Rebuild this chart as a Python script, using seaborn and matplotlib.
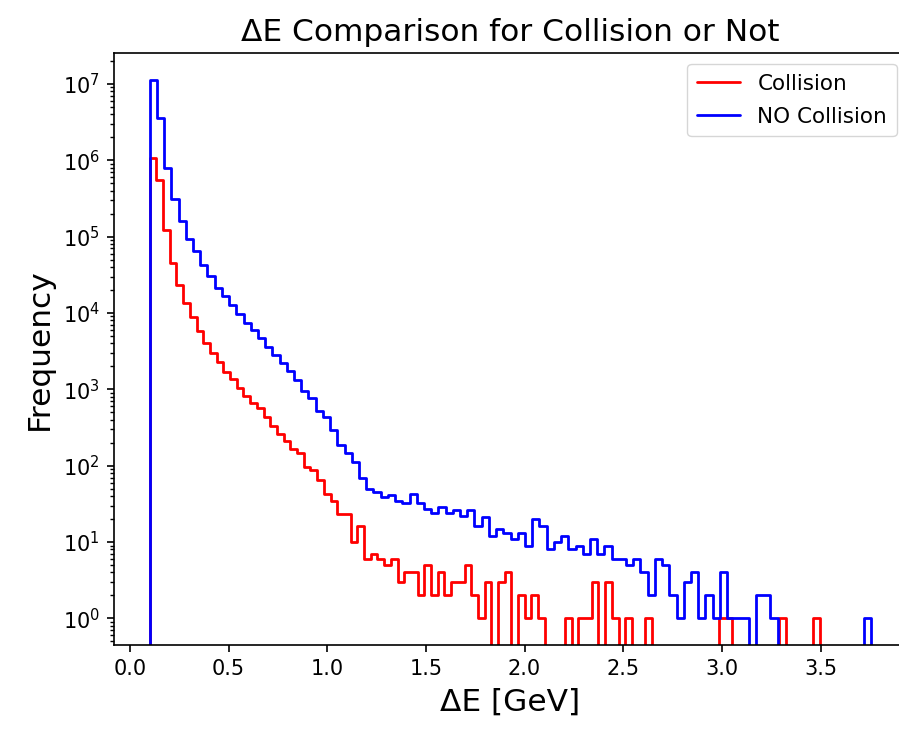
import numpy as np
import pandas as pd
import matplotlib
matplotlib.use("Agg")
import matplotlib.pyplot as plt
import seaborn as sns

# ---- data ----
title = "ΔE Comparison for Collision or Not"
xlabel = "ΔE [GeV]"
ylabel = "Frequency"
series_labels = ["Collision", "NO Collision"]
series_colors = ["red", "blue"]
xtick_values = [0.0, 0.5, 1.0, 1.5, 2.0, 2.5, 3.0, 3.5]
xtick_labels = ["0.0", "0.5", "1.0", "1.5", "2.0", "2.5", "3.0", "3.5"]
ytick_values = [1e0, 1e1, 1e2, 1e3, 1e4, 1e5, 1e6, 1e7]

# bin ranges (100 equal bins each)
collision_range = (0.1, 3.495)
no_collision_range = (0.1, 3.758)

collision_counts = [
    1070000, 560000, 123000, 45000, 23000, 13500, 8900, 5900, 4100, 3000,
    2300, 1700, 1360, 1030, 820, 670, 565, 440, 331, 260,
    213, 164, 145, 95, 87, 64, 43, 35, 23, 23,
    10, 16, 6, 7, 6, 5, 6, 3, 4, 4,
    2, 5, 2, 4, 2, 3, 3, 5, 2, 1,
    3, 0, 3, 4, 0, 2, 1, 2, 1, 0,
    0, 0, 1, 0, 1, 1, 3, 0, 3, 1,
    0, 1, 0, 0, 1, 0, 0, 0, 0, 0,
    0, 0, 0, 0, 0, 1, 1, 0, 0, 0,
    0, 0, 0, 0, 1, 0, 0, 0, 0, 1,
]

no_collision_counts = [
    11200000, 3600000, 790000, 315000, 158000, 94000, 64000, 42000, 30500, 21500,
    16500, 12800, 9600, 7500, 6000, 4700, 3600, 2800, 2200, 1750,
    1330, 960, 775, 525, 438, 297, 184, 145, 112, 70,
    50, 45, 39, 41, 34, 32, 43, 32, 27, 24,
    29, 24, 26, 22, 26, 16, 21, 12, 15, 13,
    11, 13, 9, 20, 16, 8, 10, 12, 8, 9,
    7, 11, 7, 9, 6, 6, 5, 6, 4, 2,
    6, 5, 2, 1, 3, 4, 1, 2, 1, 4,
    1, 1, 1, 0, 2, 2, 1, 0, 0, 0,
    0, 0, 0, 0, 0, 0, 0, 0, 0, 1,
]

# ---- style ----
sns.set_style("ticks")
plt.rcParams["font.family"] = ["DejaVu Sans"]
plt.rcParams.update({
    "axes.linewidth": 1.2,
    "xtick.major.size": 5.0,
    "ytick.major.size": 5.0,
    "ytick.minor.size": 3.0,
    "xtick.major.width": 1.2,
    "ytick.major.width": 1.2,
    "ytick.minor.width": 1.0,
    "xtick.major.pad": 5.0,
    "ytick.major.pad": 5.0,
    "xtick.direction": "out",
    "ytick.direction": "out",
    "axes.edgecolor": "black",
    "xtick.color": "black",
    "ytick.color": "black",
    "text.color": "black",
    "axes.labelcolor": "black",
})

W, H = 899, 731
fig = plt.figure(figsize=(W / 100, H / 100), dpi=100)
ax = fig.add_axes([113.6 / W, (H - 645.3) / H, (907.5 - 113.6) / W, (645.3 - 53.3) / H])
ax.set_yscale("log")


def padded_hist(rng, counts):
    counts = np.asarray(counts, dtype=float)
    n = len(counts)
    edges = np.linspace(rng[0], rng[1], n + 1)
    w = edges[1] - edges[0]
    # add an empty bin on each side so the outline drops to the baseline
    edges_p = np.concatenate([[edges[0] - w], edges, [edges[-1] + w]])
    weights_p = np.concatenate([[0.0], counts, [0.0]])
    centers_p = 0.5 * (edges_p[:-1] + edges_p[1:])
    return pd.DataFrame({"x": centers_p, "w": weights_p}), [float(e) for e in edges_p], edges


lw = 2.0
df_c, bins_c, edges_c = padded_hist(collision_range, collision_counts)
df_n, bins_n, edges_n = padded_hist(no_collision_range, no_collision_counts)

sns.histplot(data=df_c, x="x", weights="w", bins=bins_c, element="step",
             fill=False, color=series_colors[0], linewidth=lw,
             label=series_labels[0], ax=ax)
sns.histplot(data=df_n, x="x", weights="w", bins=bins_n, element="step",
             fill=False, color=series_colors[1], linewidth=lw,
             label=series_labels[1], ax=ax)

# limits like matplotlib's default 5% margins
xmin = min(edges_c[0], edges_n[0])
xmax = max(edges_c[-1], edges_n[-1])
xspan = xmax - xmin
ax.set_xlim(xmin - 0.05 * xspan, xmax + 0.05 * xspan)
allc = np.concatenate([collision_counts, no_collision_counts]).astype(float)
lo = np.log10(allc[allc > 0].min())
hi = np.log10(allc.max())
span = hi - lo
ax.set_ylim(10 ** (lo - 0.05 * span), 10 ** (hi + 0.05 * span))

ax.set_xticks(xtick_values)
ax.set_xticklabels(xtick_labels)
ax.set_yticks(ytick_values)
ax.tick_params(axis="both", which="major", labelsize=15)

ax.set_title(title, fontsize=22.5, pad=9)
ax.set_xlabel(xlabel, fontsize=22.5, labelpad=6)
ax.set_ylabel(ylabel, fontsize=22.5, labelpad=6)

ax.legend(loc="upper right", fontsize=15.5, frameon=True,
          labelspacing=0.6, borderpad=0.45)
ax.grid(False)

fig.savefig("out.png", dpi=100)
